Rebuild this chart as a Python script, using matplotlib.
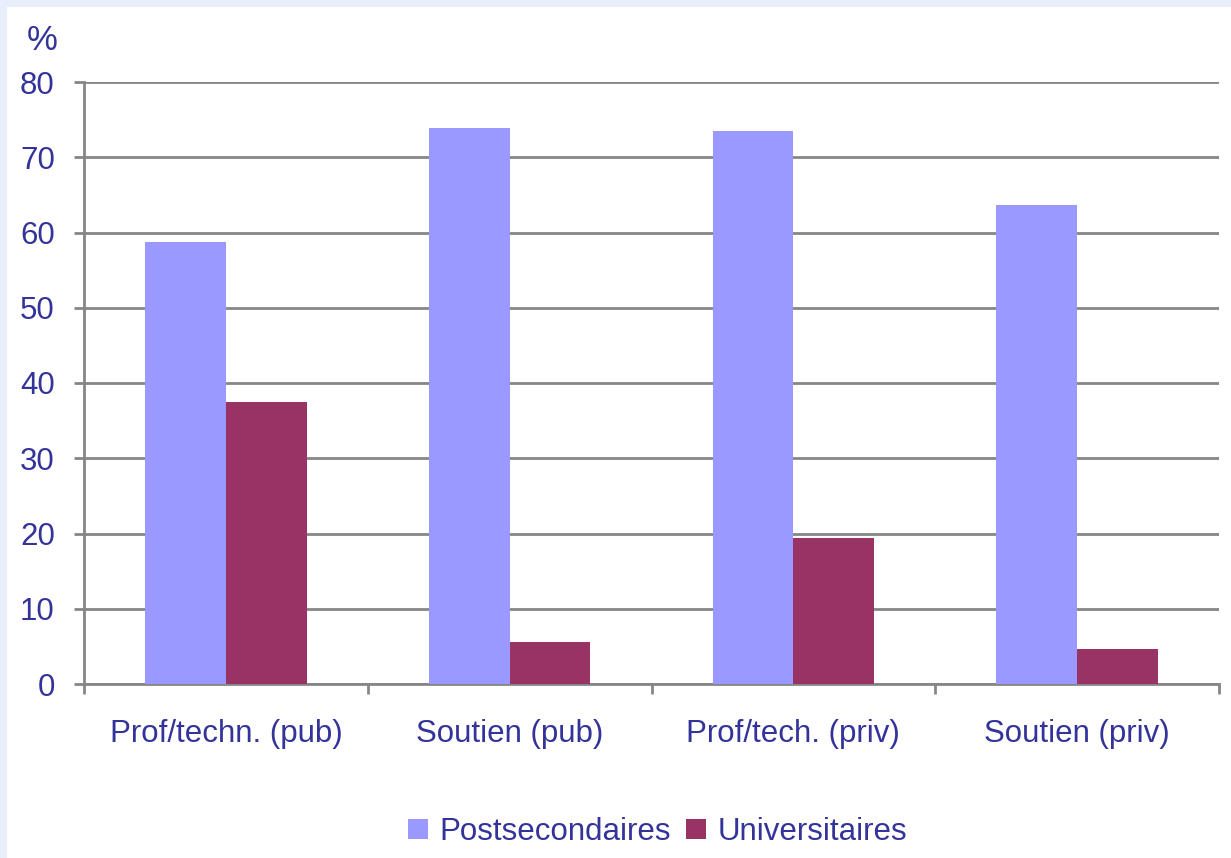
import numpy as np
import matplotlib.pyplot as plt
from matplotlib.patches import Rectangle

# données
categories = ['Prof/techn. (pub)', 'Soutien (pub)', 'Prof/tech. (priv)', 'Soutien (priv)']
postsecondaires = [58.8, 73.9, 73.5, 63.7]
universitaires = [37.5, 5.6, 19.4, 4.7]

text_col = '#333399'
grid_col = '#868686'

plt.rcParams['font.family'] = ['Liberation Sans', 'DejaVu Sans']

fig = plt.figure(figsize=(12.31, 8.58), dpi=100)
fig.patch.set_facecolor('#E8EEFB')
# fond blanc (bordure bleu clair en haut et à gauche)
fig.patches.append(Rectangle((7 / 1231, 0), 1, 1 - 7 / 858, transform=fig.transFigure,
                             facecolor='white', edgecolor='none', zorder=-5))

ax = fig.add_axes([84 / 1231, (858 - 684) / 858, (1219 - 84) / 1231, (684 - 82) / 858])
ax.set_zorder(2)
ax.set_facecolor('white')

x = np.arange(len(categories))
w = 0.285
ax.bar(x - w / 2, postsecondaires, w, color='#9999FF', label='Postsecondaires', zorder=3)
ax.bar(x + w / 2, universitaires, w, color='#993366', label='Universitaires', zorder=3)

ax.set_xlim(-0.5, len(categories) - 0.5)
ax.set_ylim(0, 80)
ax.set_yticks(range(0, 81, 10))
ax.yaxis.grid(True, color=grid_col, linewidth=2, zorder=1)
ax.set_axisbelow(True)

for s in ['top', 'right']:
    ax.spines[s].set_visible(False)
for s in ['left', 'bottom']:
    ax.spines[s].set_color(grid_col)
    ax.spines[s].set_linewidth(2)

ax.set_xticks(np.arange(-0.5, len(categories), 1))
ax.set_xticklabels([''] * (len(categories) + 1))
ax.set_xticks(x, minor=True)
ax.set_xticklabels(categories, minor=True)
ax.tick_params(axis='x', which='major', length=7, width=2, color=grid_col, direction='out')
ax.tick_params(axis='x', which='minor', length=0, pad=25, labelsize=22.5, labelcolor=text_col)
ax.tick_params(axis='y', length=7, width=2, color=grid_col, labelsize=22.5, labelcolor=text_col, pad=14)

fig.text(42 / 1231, 1 - 41 / 858, '%', fontsize=25, color=text_col, ha='center', va='center')

leg = fig.legend(loc='center', bbox_to_anchor=(0.534, 1 - 832 / 858), ncol=2, frameon=False,
                 fontsize=22.5, handlelength=0.65, handleheight=0.65, handletextpad=0.35,
                 columnspacing=0.5)
for t in leg.get_texts():
    t.set_color(text_col)

fig.savefig('out.png', dpi=100, facecolor=fig.get_facecolor())
